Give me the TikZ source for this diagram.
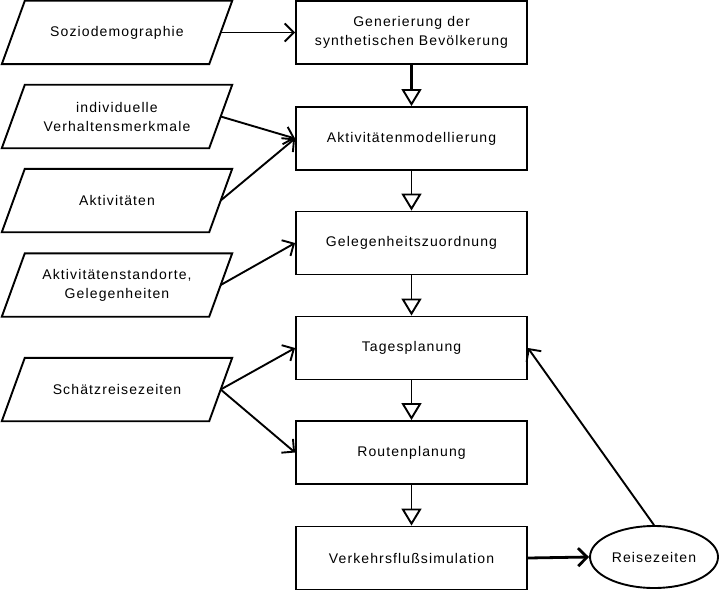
\documentclass[tikz,border=0pt]{standalone}
\usepackage{fontspec}
\setmainfont{Liberation Sans}[LetterSpace=8]
\usetikzlibrary{shapes.geometric,arrows.meta}
\newcommand\diafont{\fontsize{14}{19}\selectfont}
\begin{document}
\begin{tikzpicture}[x=1pt,y=-1pt,
  proc/.style={draw, line width=1.9pt, minimum width=231pt, minimum height=63pt, inner sep=0pt, align=center, font=\diafont},
  data/.style={minimum width=207pt, minimum height=63pt, inner sep=0pt, align=center, font=\diafont},
  border/.style={draw, line width=1.9pt, line join=miter},
  oval/.style={ellipse, draw, line width=1.9pt, minimum width=128pt, minimum height=62pt, inner sep=0pt, font=\diafont},
  side/.style={-{Straight Barb[length=9pt,width=18pt]}, line width=1.9pt},
  down/.style={-{Triangle[open,length=17pt,width=20pt,line width=1.9pt]}, line width=1.9pt},
  downthick/.style={-{Triangle[open,length=17pt,width=20pt,line width=1.9pt]}, line width=3.5pt}]
\useasboundingbox (0,0) rectangle (719,591);
% processes
\node[proc] (gen) at (411.5,32.5) {Generierung der\\synthetischen Bevölkerung};
\node[proc] (akm) at (411.5,138.5) {Aktivitätenmodellierung};
\node[proc] (gel) at (411.5,243) {Gelegenheitszuordnung};
\node[proc] (tag) at (411.5,348) {Tagesplanung};
\node[proc] (rou) at (411.5,452.5) {Routenplanung};
\node[proc] (vfs) at (411.5,558) {Verkehrsflußsimulation};
% data
\node[data] (soz) at (117,32.5) {Soziodemographie};
\node[data] (ind) at (117,116.5) {individuelle\\Verhaltensmerkmale};
\node[data] (akt) at (117,200.5) {Aktivitäten};
\node[data] (ast) at (117,285) {Aktivitätenstandorte,\\Gelegenheiten};
\node[data] (sch) at (117,389.5) {Schätzreisezeiten};
\foreach \n in {soz,ind,akt,ast,sch}
  \draw[border] ([xshift=-11.5pt]\n.south west) -- ([xshift=11.5pt]\n.north west)
     -- ([xshift=11.5pt]\n.north east) -- ([xshift=-11.5pt]\n.south east) -- cycle;
\node[oval] (rz) at (654,557) {Reisezeiten};
% vertical flow
\draw[downthick] (gen) -- (akm);
\draw[down] (akm) -- (gel);
\draw[down] (gel) -- (tag);
\draw[down] (tag) -- (rou);
\draw[down] (rou) -- (vfs);
% inputs
\draw[side] (soz.east) -- (gen.west);
\draw[side] (ind.east) -- (akm.west);
\draw[side] (akt.east) -- (akm.west);
\draw[side] (ast.east) -- (gel.west);
\draw[side] (sch.east) -- (tag.west);
\draw[side] (sch.east) -- (rou.west);
% feedback
\draw[side, line width=2.8pt] (vfs.east) -- (rz.west);
\draw[side] (rz.north) -- (tag.east);
\end{tikzpicture}
\end{document}
